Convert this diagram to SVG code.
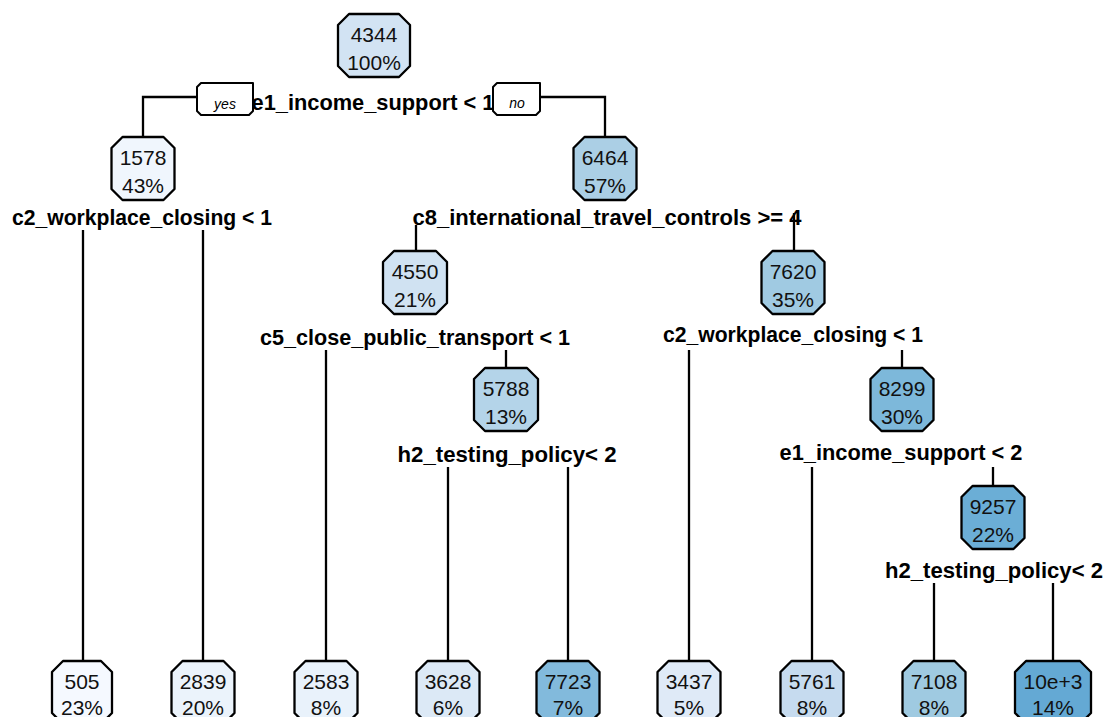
<svg xmlns="http://www.w3.org/2000/svg" width="1107" height="717" viewBox="0 0 1107 717">
<style>
.bg{fill:#ffffff}
.ln{fill:none;stroke:#000;stroke-width:2.3;stroke-linecap:butt}
.nd{stroke:#000;stroke-width:2.3;stroke-linejoin:round}
.nt{font-family:"Liberation Sans",Arial,sans-serif;font-size:21px;fill:#111;text-anchor:middle}
.lb{font-family:"Liberation Sans",Arial,sans-serif;font-size:22px;font-weight:bold;fill:#000;text-anchor:middle}
.yn{fill:#fff;stroke:#000;stroke-width:2;stroke-linejoin:round}
.ynt{font-family:"Liberation Sans",Arial,sans-serif;font-size:14px;font-style:italic;fill:#000;text-anchor:middle}
</style>
<rect class="bg" x="0" y="0" width="1107" height="717"/>
<g id="connectors">
<path class="ln" d="M197,97 H143 V137"/>
<path class="ln" d="M540,97 H605 V137"/>
<path class="ln" d="M83,230 V661"/>
<path class="ln" d="M203,230 V661"/>
<path class="ln" d="M416,225 V251"/>
<path class="ln" d="M794,213 V251"/>
<path class="ln" d="M326,350 V661"/>
<path class="ln" d="M506,350 V368"/>
<path class="ln" d="M448,467 V661"/>
<path class="ln" d="M568,467 V661"/>
<path class="ln" d="M689,350 V661"/>
<path class="ln" d="M902,350 V368"/>
<path class="ln" d="M812,467 V661"/>
<path class="ln" d="M993,467 V486"/>
<path class="ln" d="M934,583 V661"/>
<path class="ln" d="M1053,583 V661"/>
</g>
<g id="n_root">
<polygon class="nd" fill="#d2e3f3" points="349,14 399,14 410,25 410,66 399,77 349,77 338,66 338,25"/>
<text class="nt" x="374" y="42">4344</text><text class="nt" x="374" y="70">100%</text>
</g>
<g id="n_1578">
<polygon class="nd" fill="#f0f6fd" points="122.5,137 163.5,137 174.5,148 174.5,189 163.5,200 122.5,200 111.5,189 111.5,148"/>
<text class="nt" x="143" y="165">1578</text><text class="nt" x="143" y="193">43%</text>
</g>
<g id="n_6464">
<polygon class="nd" fill="#abcfe5" points="584.5,137 625.5,137 636.5,148 636.5,189 625.5,200 584.5,200 573.5,189 573.5,148"/>
<text class="nt" x="605" y="165">6464</text><text class="nt" x="605" y="193">57%</text>
</g>
<g id="n_4550">
<polygon class="nd" fill="#d0e2f2" points="394,251 436,251 447,262 447,303 436,314 394,314 383,303 383,262"/>
<text class="nt" x="415" y="279">4550</text><text class="nt" x="415" y="307">21%</text>
</g>
<g id="n_7620">
<polygon class="nd" fill="#a0cae2" points="772.5,251 813.5,251 824.5,262 824.5,303 813.5,314 772.5,314 761.5,303 761.5,262"/>
<text class="nt" x="793" y="279">7620</text><text class="nt" x="793" y="307">35%</text>
</g>
<g id="n_5788">
<polygon class="nd" fill="#b4d4e9" points="485,368 527,368 538,379 538,420 527,431 485,431 474,420 474,379"/>
<text class="nt" x="506" y="396">5788</text><text class="nt" x="506" y="424">13%</text>
</g>
<g id="n_8299">
<polygon class="nd" fill="#7db8da" points="881.5,368 922.5,368 933.5,379 933.5,420 922.5,431 881.5,431 870.5,420 870.5,379"/>
<text class="nt" x="902" y="396">8299</text><text class="nt" x="902" y="424">30%</text>
</g>
<g id="n_9257">
<polygon class="nd" fill="#6baed6" points="972.5,486 1013.5,486 1024.5,497 1024.5,538 1013.5,549 972.5,549 961.5,538 961.5,497"/>
<text class="nt" x="993" y="514">9257</text><text class="nt" x="993" y="542">22%</text>
</g>
<g id="leaf_505">
<polygon class="nd" fill="#f5f9ff" points="63,661 101,661 112,672 112,713 101,724 63,724 52,713 52,672"/>
<text class="nt" x="82" y="689">505</text><text class="nt" x="82" y="715">23%</text>
</g>
<g id="leaf_2839">
<polygon class="nd" fill="#ebf3fb" points="182.5,661 223.5,661 234.5,672 234.5,713 223.5,724 182.5,724 171.5,713 171.5,672"/>
<text class="nt" x="203" y="689">2839</text><text class="nt" x="203" y="715">20%</text>
</g>
<g id="leaf_2583">
<polygon class="nd" fill="#e9f2fb" points="305.5,661 346.5,661 357.5,672 357.5,713 346.5,724 305.5,724 294.5,713 294.5,672"/>
<text class="nt" x="326" y="689">2583</text><text class="nt" x="326" y="715">8%</text>
</g>
<g id="leaf_3628">
<polygon class="nd" fill="#dce9f6" points="427.5,661 468.5,661 479.5,672 479.5,713 468.5,724 427.5,724 416.5,713 416.5,672"/>
<text class="nt" x="448" y="689">3628</text><text class="nt" x="448" y="715">6%</text>
</g>
<g id="leaf_7723">
<polygon class="nd" fill="#82badc" points="547.5,661 588.5,661 599.5,672 599.5,713 588.5,724 547.5,724 536.5,713 536.5,672"/>
<text class="nt" x="568" y="689">7723</text><text class="nt" x="568" y="715">7%</text>
</g>
<g id="leaf_3437">
<polygon class="nd" fill="#dfeaf7" points="668.5,661 709.5,661 720.5,672 720.5,713 709.5,724 668.5,724 657.5,713 657.5,672"/>
<text class="nt" x="689" y="689">3437</text><text class="nt" x="689" y="715">5%</text>
</g>
<g id="leaf_5761">
<polygon class="nd" fill="#c6dbef" points="791.5,661 832.5,661 843.5,672 843.5,713 832.5,724 791.5,724 780.5,713 780.5,672"/>
<text class="nt" x="812" y="689">5761</text><text class="nt" x="812" y="715">8%</text>
</g>
<g id="leaf_7108">
<polygon class="nd" fill="#9fcae1" points="913.5,661 954.5,661 965.5,672 965.5,713 954.5,724 913.5,724 902.5,713 902.5,672"/>
<text class="nt" x="934" y="689">7108</text><text class="nt" x="934" y="715">8%</text>
</g>
<g id="leaf_10e3">
<polygon class="nd" fill="#64a9d4" points="1026,661 1080,661 1091,672 1091,713 1080,724 1026,724 1015,713 1015,672"/>
<text class="nt" x="1053" y="689">10e+3</text><text class="nt" x="1053" y="715">14%</text>
</g>
<g id="labels">
<text class="lb" x="373" y="110" textLength="243" lengthAdjust="spacingAndGlyphs">e1_income_support &lt; 1</text>
<text class="lb" x="142" y="225" textLength="260" lengthAdjust="spacingAndGlyphs">c2_workplace_closing &lt; 1</text>
<text class="lb" x="607" y="225" textLength="389" lengthAdjust="spacingAndGlyphs">c8_international_travel_controls &gt;= 4</text>
<text class="lb" x="415" y="345" textLength="310" lengthAdjust="spacingAndGlyphs">c5_close_public_transport &lt; 1</text>
<text class="lb" x="793" y="342" textLength="260" lengthAdjust="spacingAndGlyphs">c2_workplace_closing &lt; 1</text>
<text class="lb" x="507" y="462" textLength="219" lengthAdjust="spacingAndGlyphs">h2_testing_policy&lt; 2</text>
<text class="lb" x="901" y="460" textLength="243" lengthAdjust="spacingAndGlyphs">e1_income_support &lt; 2</text>
<text class="lb" x="994" y="578" textLength="218" lengthAdjust="spacingAndGlyphs">h2_testing_policy&lt; 2</text>
</g>
<g id="yes_box">
<polygon class="yn" points="201,83 253,83 253,111 249,115 201,115 197,111 197,87"/>
<text class="ynt" x="225" y="109">yes</text>
</g>
<g id="no_box">
<polygon class="yn" points="497,83 540,83 540,111 536,115 497,115 493,111 493,87"/>
<text class="ynt" x="517" y="108">no</text>
</g>
</svg>
